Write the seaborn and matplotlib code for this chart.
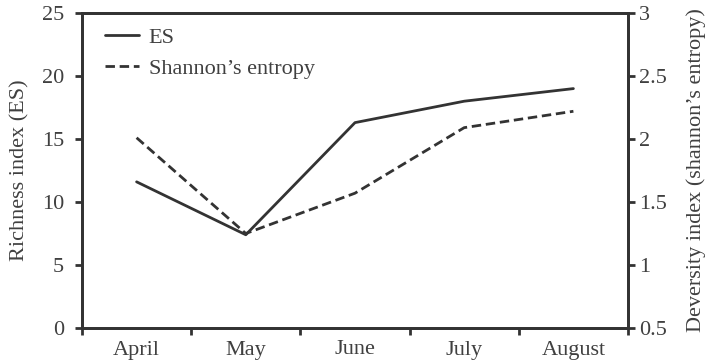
import numpy as np
import pandas as pd
import matplotlib
matplotlib.use("Agg")
import matplotlib.pyplot as plt
import seaborn as sns

months = ["April", "May", "June", "July", "August"]
es_values = [11.6, 7.4, 16.3, 18.0, 19.0]
shannon_values = [2.01, 1.25, 1.57, 2.09, 2.22]
left_ticks = [0, 5, 10, 15, 20, 25]
right_ticks = [0.5, 1, 1.5, 2, 2.5, 3]
right_tick_labels = ["0.5", "1", "1.5", "2", "2.5", "3"]

sns.set_style("ticks")
plt.rcParams["font.family"] = ["Liberation Serif", "DejaVu Serif"]
plt.rcParams["text.color"] = "#404040"
plt.rcParams["axes.labelcolor"] = "#404040"
plt.rcParams["xtick.color"] = "#333333"
plt.rcParams["ytick.color"] = "#333333"
plt.rcParams["xtick.labelcolor"] = "#404040"
plt.rcParams["ytick.labelcolor"] = "#404040"

FS = 16

pos = np.arange(len(months)) + 0.5
df = pd.DataFrame({"pos": pos, "month": months, "ES": es_values, "H": shannon_values})

fig = plt.figure(figsize=(7.1, 3.63), dpi=100)
ax = fig.add_axes([82/710, 35/363, (628-82)/710, (328-13)/363])
ax2 = ax.twinx()

line_col = "#333333"
sns.lineplot(data=df, x="pos", y="ES", ax=ax, color=line_col, lw=2.0, label="ES", legend=False)
sns.lineplot(data=df, x="pos", y="H", ax=ax2, color=line_col, lw=2.0, linestyle=(0, (3.4, 1.7)),
             label="Shannon’s entropy", legend=False)

ax.set_xlim(0, 5)
ax.set_ylim(0, 25)
ax2.set_ylim(0.5, 3)
ax.set_xticks(np.arange(0, 6))
ax.set_xticklabels([])
ax.set_xticks(pos, minor=True)
ax.set_xticklabels(months, minor=True, fontsize=FS)
ax.tick_params(axis="x", which="minor", length=0, pad=9)
ax.tick_params(axis="x", which="major", length=5, width=2)
ax.set_yticks(left_ticks)
ax.set_yticklabels([str(t) for t in left_ticks], fontsize=FS)
ax.tick_params(axis="y", length=5, width=2, pad=8)
ax2.set_yticks(right_ticks)
ax2.set_yticklabels(right_tick_labels, fontsize=FS)
ax2.tick_params(axis="y", length=5, width=2, pad=3)

ax.set_xlabel("")
ax.set_ylabel("Richness index (ES)", fontsize=FS, labelpad=9)
ax2.set_ylabel("Deversity index (shannon’s entropy)", fontsize=FS, labelpad=14)

for a in (ax, ax2):
    for s in a.spines.values():
        s.set_linewidth(2)
        s.set_color("#333333")

h1, l1 = ax.get_legend_handles_labels()
h2, l2 = ax2.get_legend_handles_labels()
ax.legend(h1 + h2, l1 + l2, loc="upper left", bbox_to_anchor=(0.016, 1.0), frameon=False,
          fontsize=FS, handlelength=1.5, handletextpad=0.45, borderaxespad=0.25,
          labelspacing=0.45)

fig.savefig("out.png", dpi=100)
